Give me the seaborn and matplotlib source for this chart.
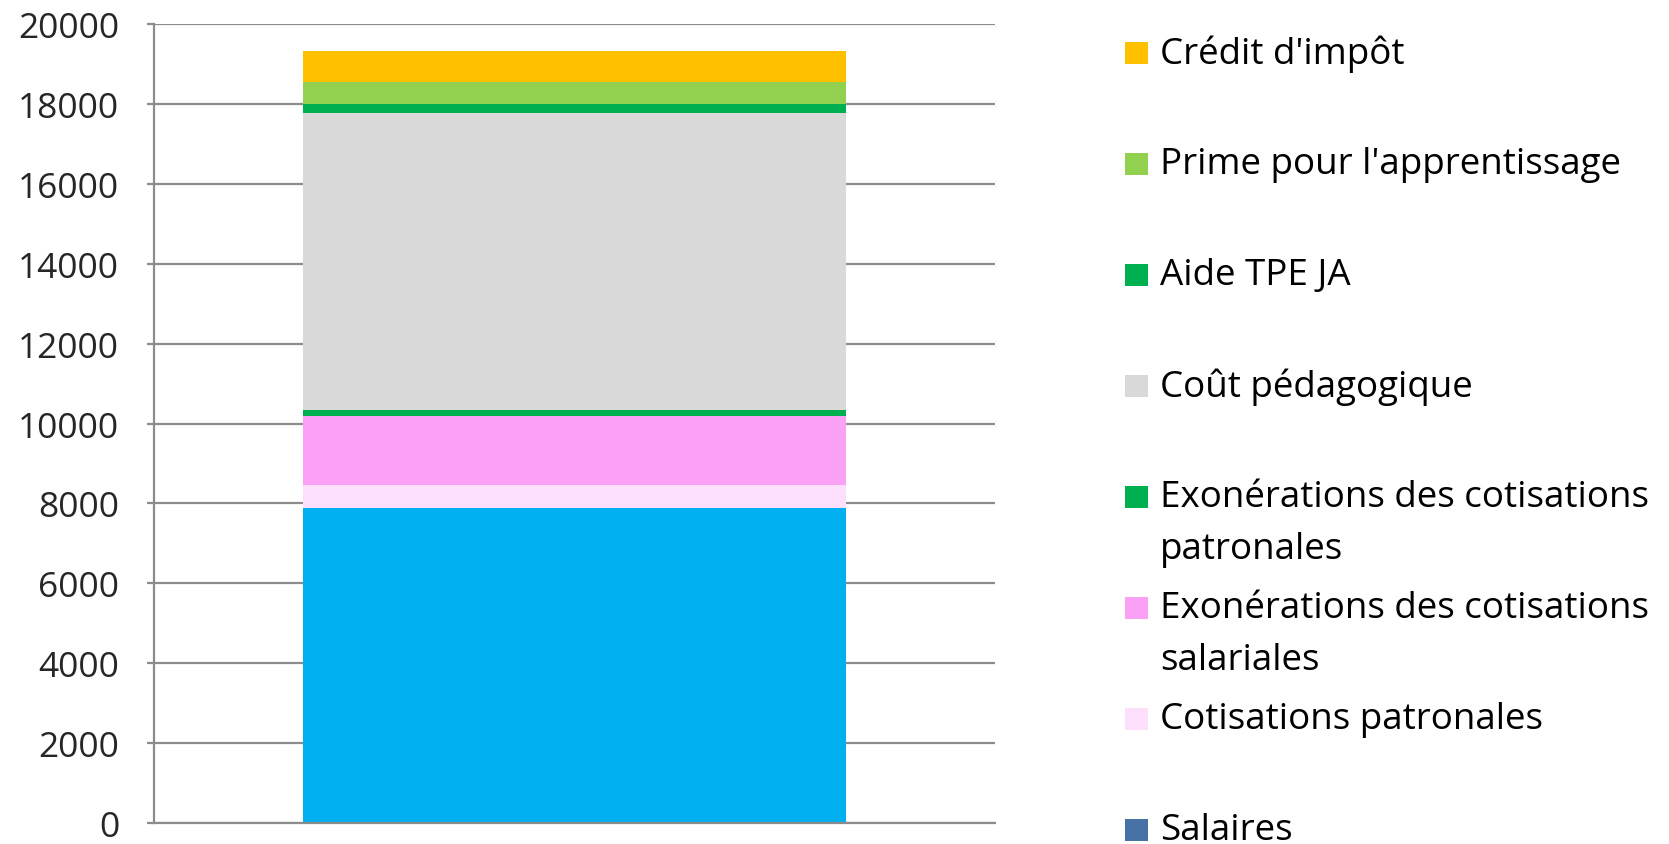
import matplotlib
matplotlib.use("Agg")
import matplotlib.pyplot as plt
import seaborn as sns
import numpy as np
import pandas as pd
from matplotlib.patches import Rectangle

# ---- data (bottom to top) ----
labels = ["Salaires", "Cotisations patronales",
          "Exonérations des cotisations salariales",
          "Exonérations des cotisations patronales",
          "Coût pédagogique", "Aide TPE JA",
          "Prime pour l'apprentissage", "Crédit d'impôt"]
legend_labels = ["Salaires", "Cotisations patronales",
                 "Exonérations des cotisations\nsalariales",
                 "Exonérations des cotisations\npatronales",
                 "Coût pédagogique", "Aide TPE JA",
                 "Prime pour l'apprentissage", "Crédit d'impôt"]
values = [7875, 600, 1725, 150, 7425, 225, 550, 780]
bar_colors = ["#00B0F0", "#FDDFFC", "#FBA1F5", "#00B050",
              "#D9D9D9", "#00B050", "#92D050", "#FFC000"]
legend_colors = ["#4672A8", "#FDDFFC", "#FBA1F5", "#00B050",
                 "#D9D9D9", "#00B050", "#92D050", "#FFC000"]
yticks = [0, 2000, 4000, 6000, 8000, 10000, 12000, 14000, 16000, 18000, 20000]

sns.set_style("white")
plt.rcParams["font.family"] = ["Open Sans", "DejaVu Sans"]

fig = plt.figure(figsize=(16.69, 8.45), dpi=100)
ax = fig.add_axes([0.0923, 0.025, 0.5038, 0.945])

cum = np.cumsum(values)
# draw from top (largest cumulative) down so lower segments paint over
for i in range(len(values) - 1, -1, -1):
    df = pd.DataFrame({"cat": ["A"], "val": [cum[i]]})
    sns.barplot(data=df, x="cat", y="val", color=bar_colors[i],
                saturation=1, width=0.646, ax=ax, linewidth=0, zorder=2)

ax.set_ylim(0, 20000)
ax.set_xlim(-0.5, 0.5)
ax.set_yticks(yticks)
ax.set_yticklabels([str(t) for t in yticks])
ax.set_xticks([])
ax.set_xlabel("")
ax.set_ylabel("")
ax.yaxis.grid(True, color="#8C8C8C", linewidth=1.6, zorder=0)
ax.set_axisbelow(True)
for s in ["top", "right"]:
    ax.spines[s].set_visible(False)
ax.spines["left"].set_color("#8C8C8C")
ax.spines["left"].set_linewidth(1.6)
ax.spines["bottom"].set_color("#8C8C8C")
ax.spines["bottom"].set_linewidth(1.6)
ax.tick_params(axis="y", length=5, width=1.6, color="#8C8C8C",
               labelsize=25.5, pad=20, left=True)

# ---- legend (top entry = last series) ----
W, H = 1669, 845
y0 = 54   # pixel of first entry center
step = 111
for k, idx in enumerate(range(len(values) - 1, -1, -1)):
    yc = y0 + k * step
    fig.patches.append(Rectangle((1125 / W, 1 - (yc + 11) / H), 23 / W, 22 / H,
                                 transform=fig.transFigure,
                                 facecolor=legend_colors[idx], edgecolor="none"))
    lines = legend_labels[idx].split("\n")
    for j, ln in enumerate(lines):
        fig.text(1160 / W, 1 - (yc + j * 52) / H, ln, fontsize=26.5,
                 va="center", ha="left", color="#000000")

fig.savefig("out.png", dpi=100, facecolor="white")
